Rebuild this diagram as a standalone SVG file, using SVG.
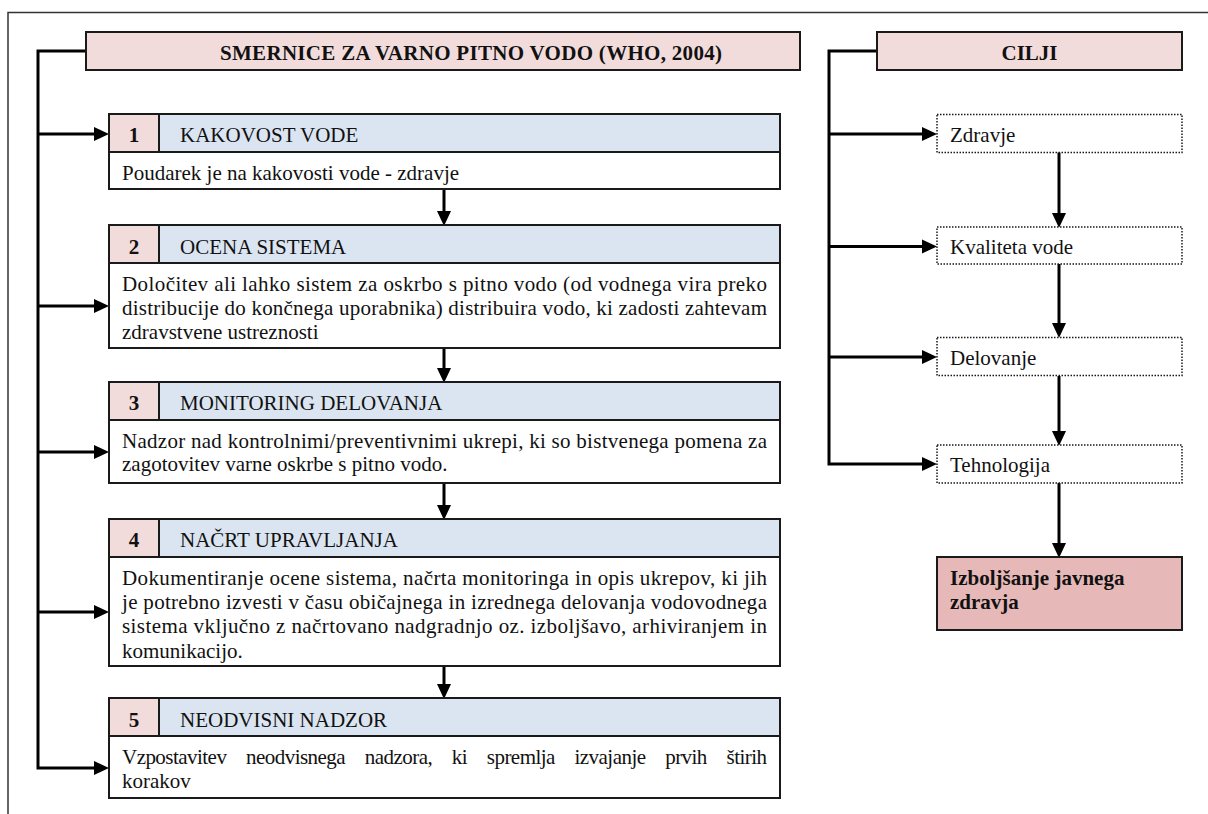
<svg xmlns="http://www.w3.org/2000/svg" width="1208" height="814" viewBox="0 0 1208 814">
<style>
text{font-family:"Liberation Serif","Times New Roman",serif;font-size:21px;fill:#111}
.b{font-weight:bold}
.box{stroke:#1a1a1a;stroke-width:2}
.pink{fill:#F2DCDB}
.blue{fill:#DBE5F1}
.white{fill:#fff}
.dark{fill:#E6B8B7}
.dot{fill:#fff;stroke:#1a1a1a;stroke-width:1.5;stroke-dasharray:1.5 1.5}
.ln{fill:none;stroke:#000;stroke-width:3;marker-end:url(#ah)}
.frame{fill:none;stroke:#333;stroke-width:1.5}
</style>
<defs>
<marker id="ah" markerUnits="userSpaceOnUse" markerWidth="16" markerHeight="14" refX="0" refY="7" orient="auto" overflow="visible">
<path d="M0,0 L15,7 L0,14 z" fill="#000"/>
</marker>
</defs>
<rect width="1208" height="814" fill="#fff"/>
<path class="frame" d="M8 814 V12.5 H1208"/>

<g id="connectors">
<path class="ln" d="M86 51 H38 V768 H94"/>
<path class="ln" d="M38 134 H94"/>
<path class="ln" d="M38 306 H94"/>
<path class="ln" d="M38 452 H94"/>
<path class="ln" d="M38 612 H94"/>
<path class="ln" d="M444 189 V211"/>
<path class="ln" d="M444 348 V368"/>
<path class="ln" d="M444 483 V505"/>
<path class="ln" d="M444 666 V684"/>
<path class="ln" d="M877 51 H829 V464 H922"/>
<path class="ln" d="M829 134 H922"/>
<path class="ln" d="M829 246.5 H922"/>
<path class="ln" d="M829 357 H922"/>
<path class="ln" d="M1059 152 V213"/>
<path class="ln" d="M1059 264 V323"/>
<path class="ln" d="M1059 376 V431"/>
<path class="ln" d="M1059 483 V543"/>
</g>

<g id="header-left">
<rect class="box pink" x="86" y="32" width="714" height="38"/>
<text class="b" x="220" y="60" textLength="502" lengthAdjust="spacing">SMERNICE ZA VARNO PITNO VODO (WHO, 2004)</text>
</g>

<g id="step1">
<rect class="box pink" x="109" y="114" width="50" height="38"/>
<rect class="box blue" x="159" y="114" width="621" height="38"/>
<rect class="box white" x="109" y="152" width="671" height="37"/>
<text class="b" x="134" y="142" text-anchor="middle">1</text>
<text x="180" y="142">KAKOVOST VODE</text>
<text x="122" y="180">Poudarek je na kakovosti vode - zdravje</text>
</g>

<g id="step2">
<rect class="box pink" x="109" y="225" width="50" height="38"/>
<rect class="box blue" x="159" y="225" width="621" height="38"/>
<rect class="box white" x="109" y="263" width="671" height="85"/>
<text class="b" x="134" y="254" text-anchor="middle">2</text>
<text x="180" y="254">OCENA SISTEMA</text>
<text x="122" y="291" textLength="645" lengthAdjust="spacing">Določitev ali lahko sistem za oskrbo s pitno vodo (od vodnega vira preko</text>
<text x="122" y="315" textLength="645" lengthAdjust="spacing">distribucije do končnega uporabnika) distribuira vodo, ki zadosti zahtevam</text>
<text x="122" y="339">zdravstvene ustreznosti</text>
</g>

<g id="step3">
<rect class="box pink" x="109" y="382" width="50" height="38"/>
<rect class="box blue" x="159" y="382" width="621" height="38"/>
<rect class="box white" x="109" y="420" width="671" height="63"/>
<text class="b" x="134" y="410" text-anchor="middle">3</text>
<text x="180" y="410">MONITORING DELOVANJA</text>
<text x="122" y="447.5" textLength="645" lengthAdjust="spacing">Nadzor nad kontrolnimi/preventivnimi ukrepi, ki so bistvenega pomena za</text>
<text x="122" y="471">zagotovitev varne oskrbe s pitno vodo.</text>
</g>

<g id="step4">
<rect class="box pink" x="109" y="519" width="50" height="38"/>
<rect class="box blue" x="159" y="519" width="621" height="38"/>
<rect class="box white" x="109" y="557" width="671" height="109"/>
<text class="b" x="134" y="547" text-anchor="middle">4</text>
<text x="180" y="547">NAČRT UPRAVLJANJA</text>
<text x="122" y="585" textLength="645" lengthAdjust="spacing">Dokumentiranje ocene sistema, načrta monitoringa in opis ukrepov, ki jih</text>
<text x="122" y="609" textLength="645" lengthAdjust="spacing">je potrebno izvesti v času običajnega in izrednega delovanja vodovodnega</text>
<text x="122" y="633" textLength="645" lengthAdjust="spacing">sistema vključno z načrtovano nadgradnjo oz. izboljšavo, arhiviranjem in</text>
<text x="122" y="657.5">komunikacijo.</text>
</g>

<g id="step5">
<rect class="box pink" x="109" y="698" width="50" height="38"/>
<rect class="box blue" x="159" y="698" width="621" height="38"/>
<rect class="box white" x="109" y="736" width="671" height="62"/>
<text class="b" x="134" y="727" text-anchor="middle">5</text>
<text x="180" y="727">NEODVISNI NADZOR</text>
<text x="122" y="763.5" word-spacing="15" textLength="645" lengthAdjust="spacing">Vzpostavitev neodvisnega nadzora, ki spremlja izvajanje prvih štirih</text>
<text x="122" y="787.5">korakov</text>
</g>

<g id="header-right">
<rect class="box pink" x="877" y="32" width="305" height="38"/>
<text class="b" x="1029.5" y="60" text-anchor="middle">CILJI</text>
</g>

<g id="goal-zdravje">
<rect class="dot" x="937" y="114.5" width="245" height="38"/>
<text x="950" y="142">Zdravje</text>
</g>
<g id="goal-kvaliteta">
<rect class="dot" x="937" y="227" width="245" height="37"/>
<text x="950" y="254">Kvaliteta vode</text>
</g>
<g id="goal-delovanje">
<rect class="dot" x="937" y="337.5" width="245" height="38"/>
<text x="950" y="365">Delovanje</text>
</g>
<g id="goal-tehnologija">
<rect class="dot" x="937" y="445" width="245" height="38"/>
<text x="950" y="472">Tehnologija</text>
</g>

<g id="result">
<rect class="box dark" x="937" y="557" width="245" height="73"/>
<text class="b" x="950" y="585">Izboljšanje javnega</text>
<text class="b" x="950" y="609">zdravja</text>
</g>
</svg>
